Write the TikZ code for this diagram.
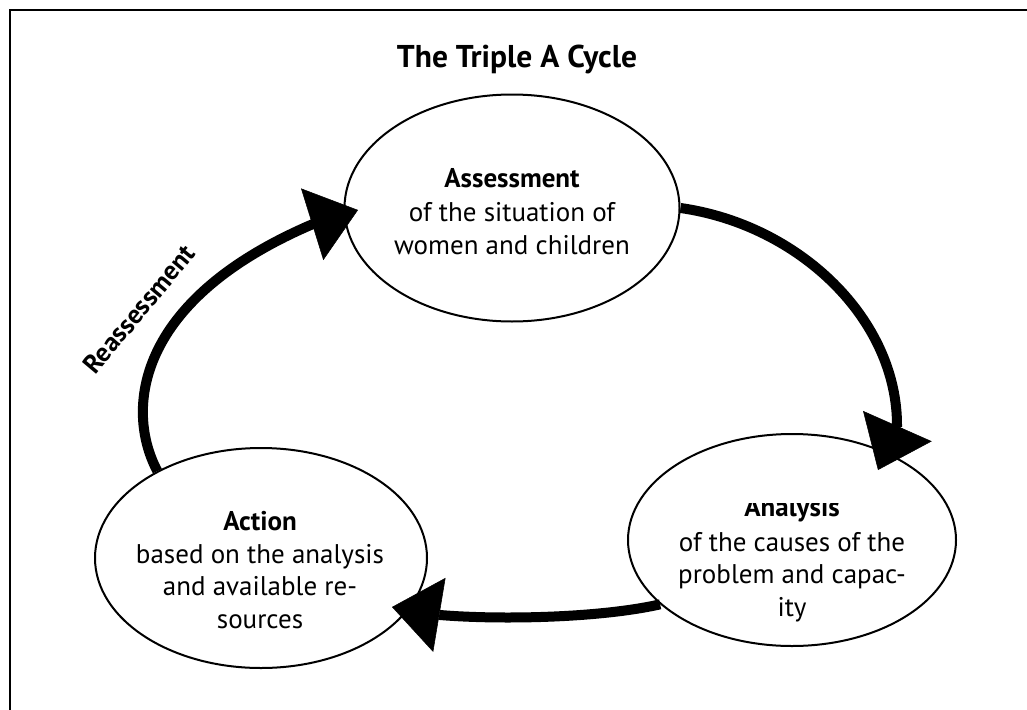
\documentclass[tikz,border=0pt]{standalone}
\usepackage{fontspec}
\setmainfont{PT Sans}
\usetikzlibrary{shapes.geometric,arrows.meta}
\tikzset{
  stage/.style={draw=black, line width=2pt, ellipse, inner sep=0pt},
  stagetext/.style={align=center, anchor=base, inner sep=0pt, font=\fontsize{27}{32.5}\selectfont},
  cyclearrow/.style={line width=10pt, -{Triangle[length=48pt,width=75pt,line width=0.5pt]}},
}
\begin{document}
\begin{tikzpicture}[x=1pt,y=-1pt]
\useasboundingbox (0,0) rectangle (1027,709);
\fill[white] (0,0) rectangle (1027,709);
\draw[line width=2.6pt] (10,712) -- (10,10) -- (1030,10);
\node[anchor=base, font=\bfseries\fontsize{31.5}{36}\selectfont] (title) at (517,67) {The Triple A Cycle};
% ellipses
\node[stage, minimum width=335pt, minimum height=227pt] (assess) at (512,208) {};
\node[stage, minimum width=328pt, minimum height=212pt] (anal) at (792,540) {};
\node[stage, minimum width=332pt, minimum height=220pt] (act) at (261,558) {};
% texts
\node[stagetext] (assessT) at (512,254) {\textbf{Assessment}\\[2pt]of the situation of\\women and children};
\begin{scope}
\clip (600,503) rectangle (980,660);
\node[stagetext] (analT) at (792,616) {\textbf{Analysis}\\[2pt]of the causes of the\\problem and capac-\\ity};
\end{scope}
\node[stagetext] (actT) at (260,628) {\textbf{Action}\\based on the analysis\\and available re-\\sources};
% connectors
\coordinate (t1) at (878,470);
\coordinate (t2) at (392,607);
\coordinate (t3) at (358,210);
\draw[cyclearrow] (assess.east) .. controls (800,225) and (898,320) .. (897,427) -- (t1);
\draw[cyclearrow] (anal.206) .. controls (600,618) and (500,620) .. (440,615) -- (t2);
\draw[cyclearrow] (act.140) .. controls (125,410) and (135,300) .. (313,224) -- (t3);
\node[rotate=50, font=\bfseries\fontsize{26.5}{30}\selectfont] (reass) at (139,309) {Reassessment};
\end{tikzpicture}
\end{document}
